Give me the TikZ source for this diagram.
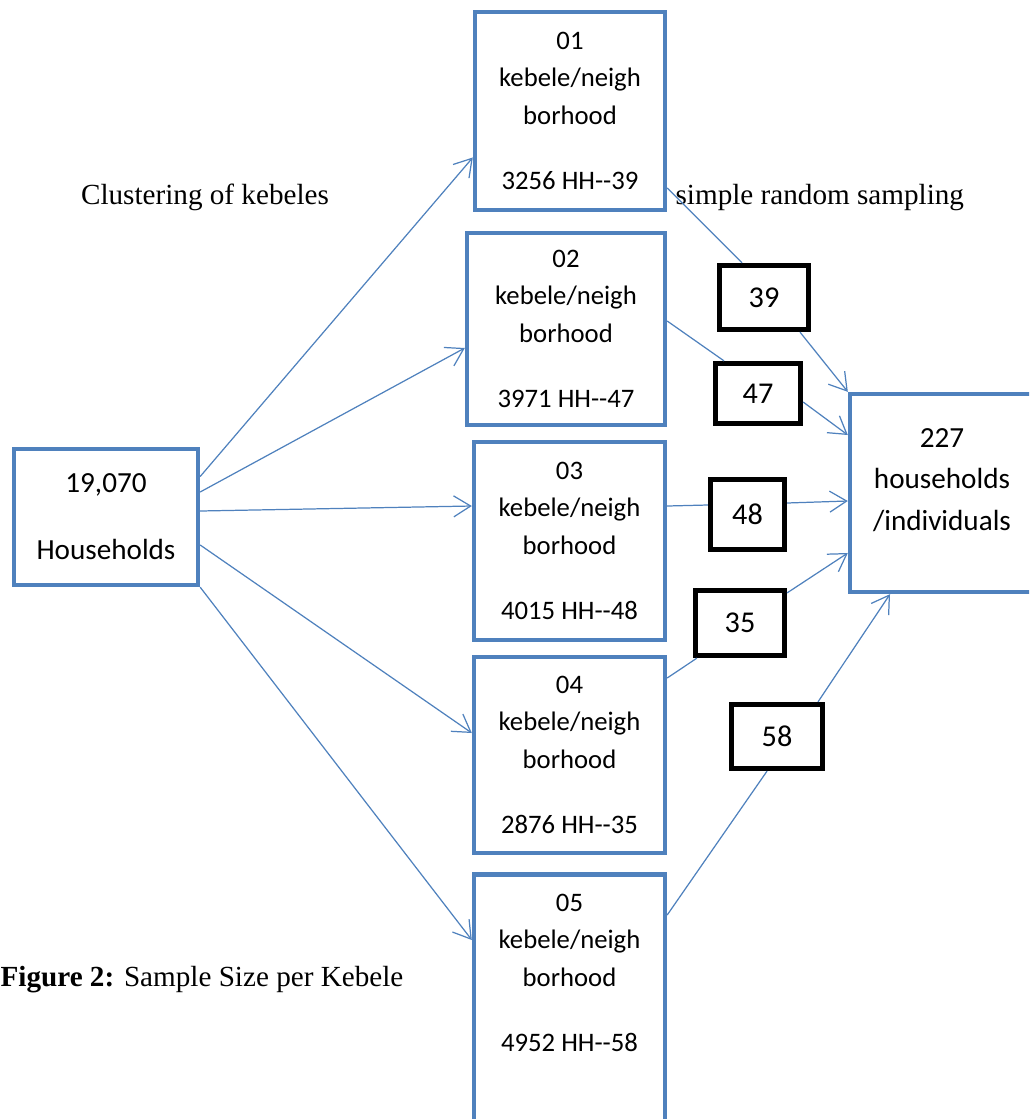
\documentclass[tikz,border=0pt]{standalone}
\usepackage{fontspec}
\setmainfont{Liberation Serif}
\newfontfamily\calibri{Carlito}
\usetikzlibrary{arrows.meta}
\definecolor{boxblue}{RGB}{79,129,189}

\begin{document}
\begin{tikzpicture}[x=0.02cm,y=-0.02cm,line width=.7pt,font=\fontsize{16.6}{21.3}\selectfont,
  bluebox/.style={draw=boxblue,line width=2.5pt,inner sep=0pt,align=center,font=\calibri\fontsize{16.6}{21.3}\selectfont},
  kebbox/.style={bluebox,font=\calibri\fontsize{15.2}{21.3}\selectfont},
  numbox/.style={draw=black,line width=3pt,inner sep=0pt,font=\calibri\fontsize{17.2}{21.3}\selectfont},
  boxtext/.style={align=center,inner sep=0pt,font=\calibri\fontsize{15.2}{21.3}\selectfont},
  link/.style={draw=boxblue,line width=.7pt},
  flow/.style={link,-{Straight Barb[length=.34cm,width=.42cm]}}]
\clip (0,0) rectangle (1029,1119);
\node[bluebox,minimum width=3.68cm,minimum height=2.72cm] (hh) at (106,517) {19,070\\[.59cm]Households};
\node[kebbox,minimum width=3.8cm,minimum height=3.96cm] (k1) at (570,111) {01\\kebele/neigh\\borhood\\[.57cm]3256 HH-{}-39};
\node[kebbox,minimum width=3.96cm,minimum height=3.84cm] (k2) at (566,329) {02\\kebele/neigh\\borhood\\[.57cm]3971 HH-{}-47};
\node[kebbox,minimum width=3.82cm,minimum height=3.96cm] (k3) at (569.5,541) {03\\kebele/neigh\\borhood\\[.57cm]4015 HH-{}-48};
\node[kebbox,minimum width=3.82cm,minimum height=3.92cm] (k4) at (569.5,755) {04\\kebele/neigh\\borhood\\[.57cm]2876 HH-{}-35};
\node[kebbox,minimum width=3.82cm,minimum height=5.1cm] (k5) at (569.5,1002) {};
\node[boxtext] (t5) at (569.5,973) {05\\kebele/neigh\\borhood\\[.57cm]4952 HH-{}-58};
\node[bluebox,minimum width=3.68cm,minimum height=3.96cm] (sink) at (942,493) {};
\node[boxtext,font=\calibri\fontsize{16.6}{23.6}\selectfont] (sinktext) at (942,480) {227\\households\\/individuals};
\node[numbox,minimum width=1.78cm,minimum height=1.28cm] (n39) at (764,297.5) {39};
\node[numbox,minimum width=1.7cm,minimum height=1.2cm] (n47) at (758,393.5) {47};
\node[numbox,minimum width=1.48cm,minimum height=1.4cm] (n48) at (747.5,514.5) {48};
\node[numbox,minimum width=1.78cm,minimum height=1.3cm] (n35) at (740,623) {35};
\node[numbox,minimum width=1.82cm,minimum height=1.28cm] (n58) at (777,736.5) {58};
\node (clus) at (205,197) {Clustering of kebeles};
\node[anchor=west,inner sep=0pt] (srs) at (675,198) {simple random sampling};
\node[anchor=west,inner sep=0pt] (cap) at (0,980) {\textbf{Figure 2:} Sample Size per Kebele};
\draw[flow] ([yshift=.81cm]hh.east) -- ([yshift=-.93cm]k1.west);
\draw[flow] ([yshift=.5cm]hh.east) -- ([yshift=-.38cm]k2.west);
\draw[flow] ([yshift=.12cm]hh.east) -- ([yshift=.7cm]k3.west);
\draw[flow] ([yshift=-.56cm]hh.east) -- ([yshift=.44cm]k4.west);
\draw[flow] (hh.south east) -- ([yshift=1.24cm]k5.west);
\draw[link] ([yshift=-1.54cm]k1.east) -- ([xshift=-.44cm]n39.north);
\draw[flow] ([xshift=.72cm]n39.south) -- (sink.north west);
\draw[link] ([yshift=.16cm]k2.east) -- ([xshift=-.68cm]n47.north);
\draw[flow] ([yshift=-.17cm]n47.east) -- ([yshift=1.16cm]sink.west);
\draw[link] ([yshift=.7cm]k3.east) -- ([yshift=.19cm]n48.west);
\draw[flow] ([yshift=.23cm]n48.east) -- ([yshift=-.16cm]sink.west);
\draw[link] ([yshift=1.54cm]k4.east) -- ([xshift=.08cm]n35.south west);
\draw[flow] ([yshift=-.1cm]n35.north east) -- ([yshift=-1.2cm]sink.west);
\draw[link] ([yshift=1.74cm]k5.east) -- ([xshift=-.2cm]n58.south);
\draw[flow] ([xshift=.82cm]n58.north) -- ([xshift=-1.04cm]sink.south);
\end{tikzpicture}
\end{document}
